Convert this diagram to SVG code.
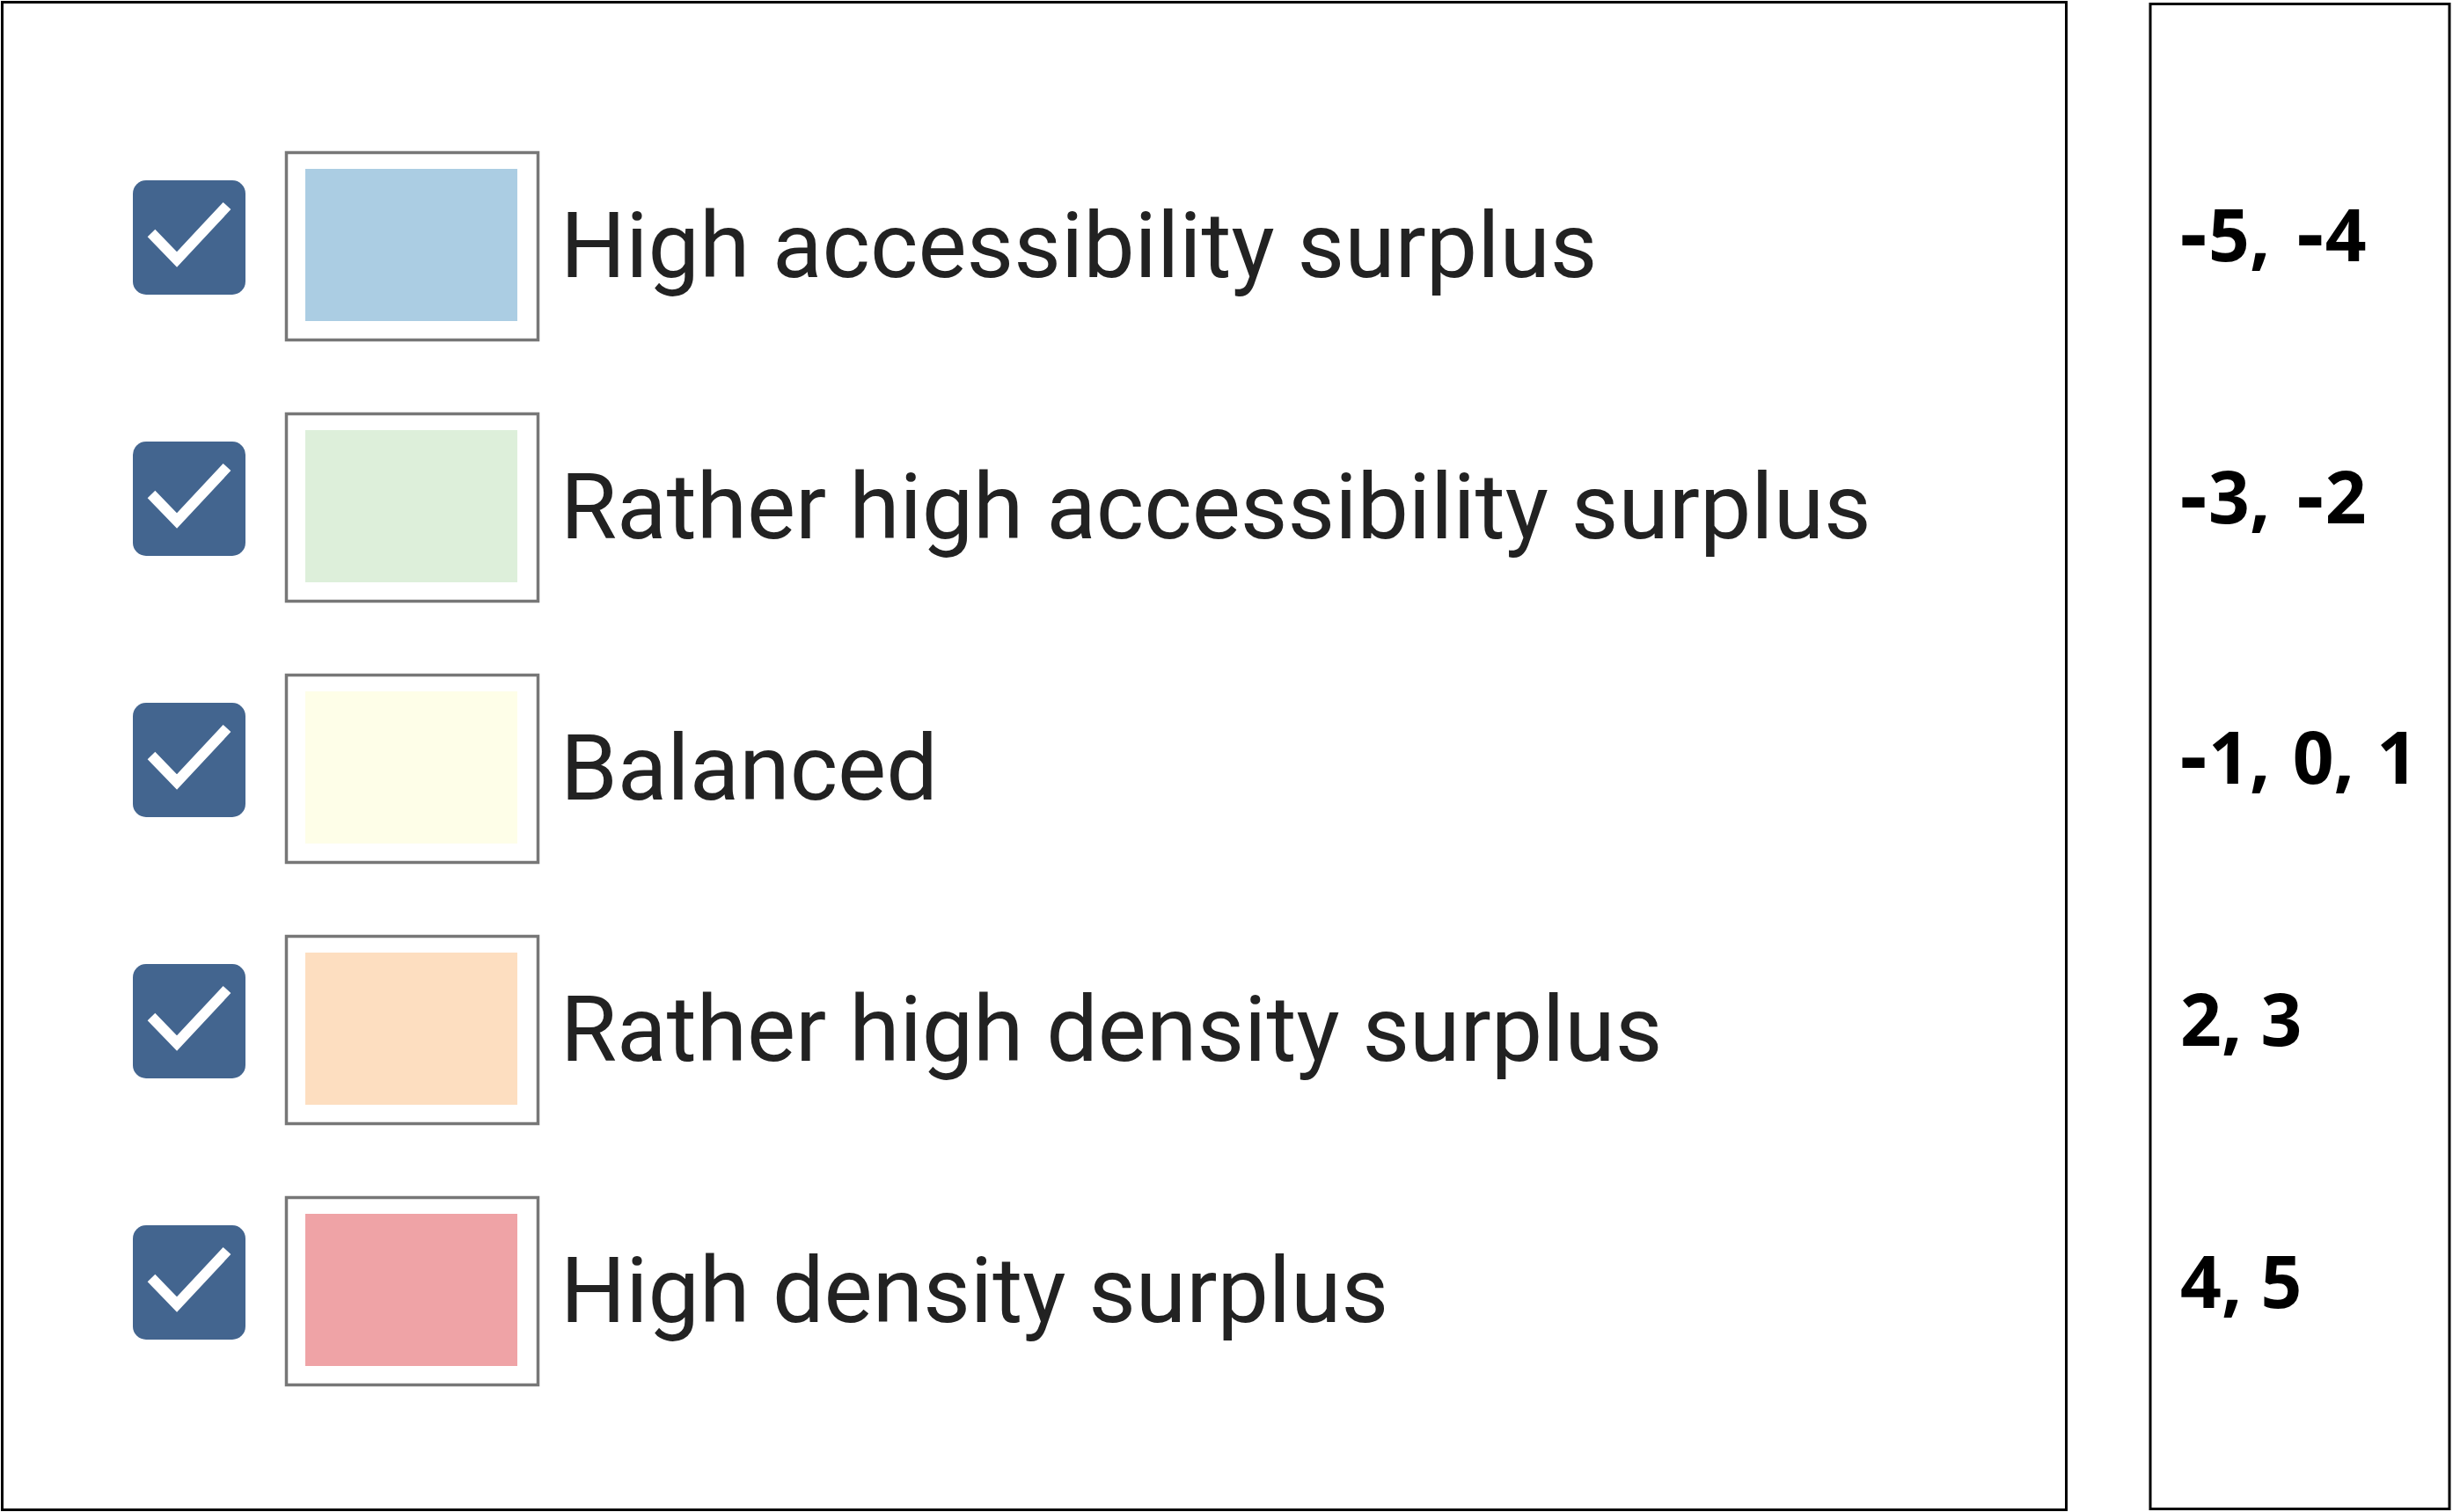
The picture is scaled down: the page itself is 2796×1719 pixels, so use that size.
<svg xmlns="http://www.w3.org/2000/svg" width="2796" height="1719" viewBox="0 0 2796 1719">
<defs>
<style>
.frame{fill:none;stroke:#000;stroke-width:3}
.cb{fill:#43658F}
.tick{fill:none;stroke:#fff;stroke-width:12;stroke-linecap:butt;stroke-linejoin:miter}
.sw{fill:#fff;stroke:#777;stroke-width:3.5}
.lbl{font-family:Roboto,"Liberation Sans",sans-serif;font-size:104px;fill:#222}
.val{font-family:"Noto Sans","Open Sans","Liberation Sans",sans-serif;font-weight:700;font-size:82px;fill:#000}
.hy{font-family:"DejaVu Sans","Noto Sans",sans-serif}
</style>
<g id="checkbox">
<rect class="cb" x="151" y="205" width="128" height="130" rx="15" ry="15"/>
<polyline class="tick" points="172,265 201,295 258,234"/>
</g>
</defs>
<rect x="0" y="0" width="2796" height="1719" fill="#fff"/>
<g id="legend-frame"><rect class="frame" x="2.5" y="2.5" width="2346" height="1714"/></g>
<g id="values-frame"><rect class="frame" x="2444" y="4.5" width="340" height="1711"/></g>

<g id="row1">
<use href="#checkbox"/>
<rect class="sw" x="325.5" y="173.5" width="286" height="213"/>
<rect x="347" y="192" width="241" height="173" fill="#ABCDE3"/>
<text class="lbl" x="637" y="315">High accessibility surplus</text>
</g>
<g id="row2">
<use href="#checkbox" y="297"/>
<rect class="sw" x="325.5" y="470.5" width="286" height="213"/>
<rect x="347" y="489" width="241" height="173" fill="#DDEFDA"/>
<text class="lbl" x="637" y="612">Rather high accessibility surplus</text>
</g>
<g id="row3">
<use href="#checkbox" y="594"/>
<rect class="sw" x="325.5" y="767.5" width="286" height="213"/>
<rect x="347" y="786" width="241" height="173" fill="#FEFEE8"/>
<text class="lbl" x="637" y="909">Balanced</text>
</g>
<g id="row4">
<use href="#checkbox" y="891"/>
<rect class="sw" x="325.5" y="1064.5" width="286" height="213"/>
<rect x="347" y="1083" width="241" height="173" fill="#FDDEC0"/>
<text class="lbl" x="637" y="1206">Rather high density surplus</text>
</g>
<g id="row5">
<use href="#checkbox" y="1188"/>
<rect class="sw" x="325.5" y="1361.5" width="286" height="213"/>
<rect x="347" y="1380" width="241" height="173" fill="#EFA3A6"/>
<text class="lbl" x="637" y="1503">High density surplus</text>
</g>

<g id="values">
<text class="val" x="2476" y="297" word-spacing="7"><tspan class="hy">-</tspan>5, <tspan class="hy">-</tspan>4</text>
<text class="val" x="2476" y="595" word-spacing="7"><tspan class="hy">-</tspan>3, <tspan class="hy">-</tspan>2</text>
<text class="val" x="2476" y="891" word-spacing="4"><tspan class="hy">-</tspan>1, 0, 1</text>
<text class="val" x="2478" y="1189">2, 3</text>
<text class="val" x="2478" y="1487">4, 5</text>
</g>
<g id="connectors"/>
</svg>
